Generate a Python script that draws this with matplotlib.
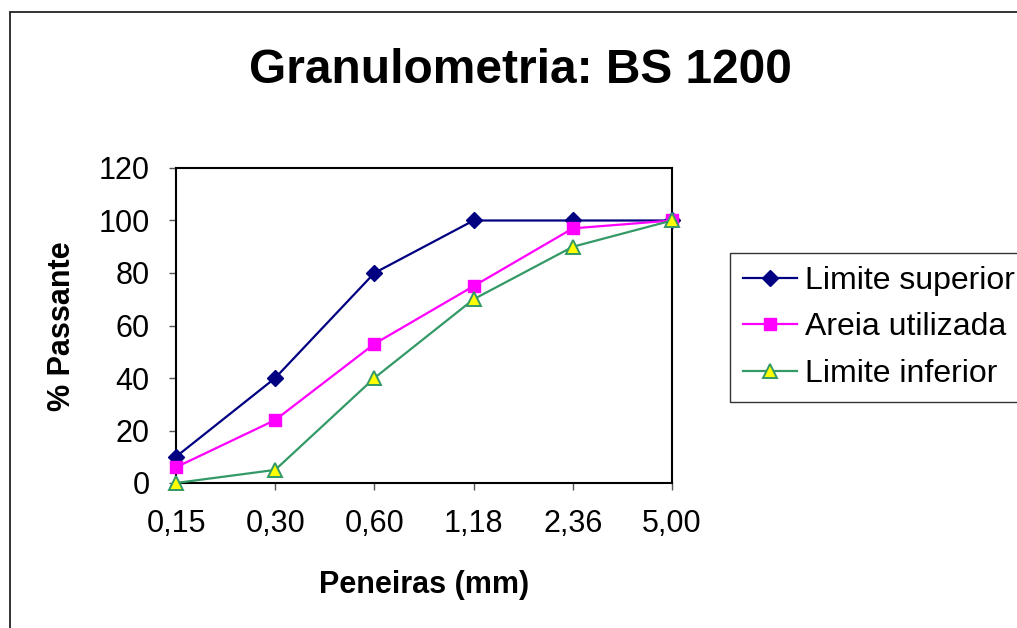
import numpy as np
import matplotlib
matplotlib.use('Agg')
import matplotlib.pyplot as plt
from matplotlib.patches import Rectangle

plt.rcParams['font.family'] = ['Liberation Sans', 'DejaVu Sans']

# Peneiras (mm) e % passante
peneiras = ['0,15', '0,30', '0,60', '1,18', '2,36', '5,00']
limite_superior = [10, 40, 80, 100, 100, 100]
areia_utilizada = [6, 24, 53, 75, 97, 100]
limite_inferior = [0, 5, 40, 70, 90, 100]

fig = plt.figure(figsize=(10.17, 6.28), dpi=100)
ax = fig.add_axes([176 / 1017, 1 - 483 / 628, 496 / 1017, 315 / 628])

x = np.arange(len(peneiras))
ax.plot(x, limite_superior, color='#000080', lw=1.6, marker='D', ms=8,
        mfc='#000080', mec='#000080', label='Limite superior', clip_on=False, zorder=3)
ax.plot(x, areia_utilizada, color='#FF00FF', lw=1.6, marker='s', ms=8.5,
        mfc='#FF00FF', mec='#FF00FF', label='Areia utilizada', clip_on=False, zorder=3)
ax.plot(x, limite_inferior, color='#339966', lw=1.6, marker='^', ms=9.5,
        mfc='#FFFF00', mec='#339966', mew=1.4, label='Limite inferior', clip_on=False, zorder=3)

ax.set_xlim(0, 5)
ax.set_ylim(0, 120)
ax.set_yticks(np.arange(0, 121, 20))
ax.set_xticks(x)
ax.set_xticklabels(peneiras)
ax.tick_params(axis='both', direction='out', length=5, width=1, color='#555555',
               labelsize=22, pad=14)
for s in ax.spines.values():
    s.set_linewidth(1.5)
    s.set_color('black')

fig.text(520 / 1017, 1 - 83 / 628, 'Granulometria: BS 1200', ha='center', va='baseline',
         fontsize=34.5, fontweight='bold')
fig.text(424 / 1017, 1 - 593 / 628, 'Peneiras (mm)', ha='center', va='baseline',
         fontsize=22, fontweight='bold')
fig.text(62 / 1017, 1 - 326 / 628, '% Passante', ha='center', va='center',
         rotation=90, fontsize=22, fontweight='bold')

# legenda larga, a borda direita fica fora da figura
leg = ax.legend(loc='upper left', bbox_to_anchor=(730 / 1017, 1 - 253 / 628, 320 / 1017, 0),
                bbox_transform=fig.transFigure, mode='expand', borderaxespad=0,
                fontsize=23, frameon=True, fancybox=False, shadow=False, framealpha=1,
                handlelength=1.7, handletextpad=0.25, labelspacing=0.52,
                borderpad=0.4)
leg.get_frame().set_edgecolor('#333333')
leg.get_frame().set_linewidth(1.0)

# moldura externa do gráfico
fig.patches.append(Rectangle((10 / 1017, -0.1), 1.2, 1.1 - 12 / 628,
                             transform=fig.transFigure, fill=False,
                             edgecolor='#222222', lw=1.3))

fig.savefig('out.png', dpi=100)
